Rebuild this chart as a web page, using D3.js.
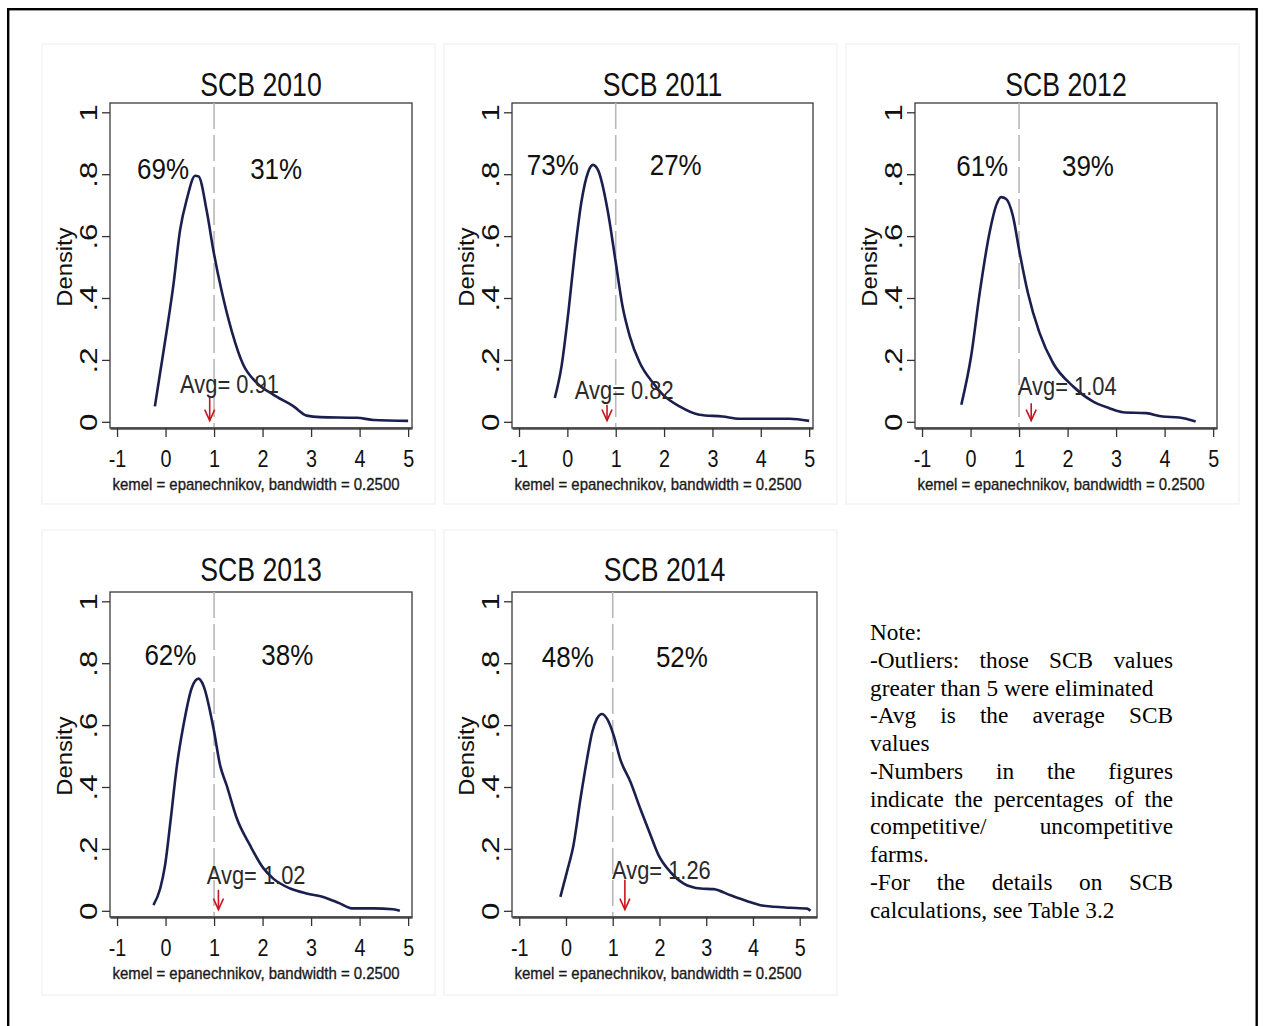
<!DOCTYPE html>
<html><head><meta charset="utf-8">
<script src="https://cdn.jsdelivr.net/npm/d3@7"></script>
<style>body{margin:0;background:#fff}</style>
</head><body>
<svg id="chart" width="1263" height="1026"></svg>
<script>
// ---------------- data ----------------
const titles = ["SCB 2010","SCB 2011","SCB 2012","SCB 2013","SCB 2014"];
const leftPct = ["69%","73%","61%","62%","48%"];
const rightPct = ["31%","27%","39%","38%","52%"];
const avgValues = [0.91,0.82,1.04,1.02,1.26];
const arrowAt = [0.91,0.82,1.25,1.09,1.26];
const cutoff = 1;
const xTicks = [-1,0,1,2,3,4,5];
const yTicks = [0,0.2,0.4,0.6,0.8,1];
const yTickLabels = ["0",".2",".4",".6",".8","1"];
const xMin = [-1.145,-1.145,-1.145,-1.145,-1.155];
const xMax = [5.08,5.08,5.08,5.08,5.37];
const yDomain = [-0.02,1.03];
const yLabel = "Density";
const caption = "kemel = epanechnikov, bandwidth = 0.2500";

// annotation anchors (data coordinates)
const leftPctX = [-0.05,-0.30,0.24,0.10,0.04];
const rightPctX = [2.28,2.24,2.42,2.51,2.48];
const pctY = [0.786,0.796,0.795,0.793,0.787];
const avgX = [0.30,0.155,0.975,0.85,0.985];
const avgY = [0.093,0.075,0.088,0.088,0.104];
const arrowTop = [0.078,0.055,0.06,0.068,0.10];

const density2010 = [[-0.22,0.05],[-0.11,0.16],[0.02,0.29],[0.16,0.44],[0.30,0.62],[0.44,0.72],[0.61,0.795],[0.68,0.793],[0.85,0.68],[0.99,0.55],[1.16,0.42],[1.37,0.29],[1.60,0.185],[1.88,0.126],[2.22,0.088],[2.64,0.05],[2.91,0.02],[3.19,0.015],[3.94,0.013],[4.29,0.006],[5.0,0.003]];
const density2011 = [[-0.26,0.077],[-0.12,0.18],[0.02,0.353],[0.155,0.548],[0.29,0.71],[0.43,0.807],[0.53,0.83],[0.635,0.813],[0.84,0.677],[0.99,0.526],[1.14,0.374],[1.29,0.277],[1.50,0.19],[1.77,0.126],[1.975,0.088],[2.32,0.05],[2.73,0.023],[3.21,0.017],[3.56,0.01],[4.59,0.01],[5.0,0.003]];
const density2012 = [[-0.19,0.055],[0.01,0.21],[0.19,0.418],[0.39,0.61],[0.53,0.70],[0.63,0.726],[0.735,0.72],[0.87,0.667],[1.01,0.548],[1.18,0.418],[1.42,0.288],[1.70,0.19],[2.11,0.115],[2.52,0.066],[2.86,0.044],[3.14,0.031],[3.62,0.028],[3.96,0.017],[4.30,0.014],[4.64,0.001]];
const density2013 = [[-0.25,0.018],[-0.11,0.072],[-0.01,0.147],[0.10,0.287],[0.235,0.47],[0.37,0.60],[0.54,0.72],[0.68,0.75],[0.78,0.728],[0.99,0.588],[1.125,0.47],[1.26,0.405],[1.47,0.298],[1.74,0.212],[2.02,0.137],[2.22,0.104],[2.57,0.072],[2.91,0.056],[3.25,0.045],[3.59,0.024],[3.84,0.008],[4.28,0.008],[4.69,0.005],[4.83,0.0]];
const density2014 = [[-0.12,0.045],[0.02,0.126],[0.16,0.212],[0.31,0.362],[0.45,0.49],[0.56,0.577],[0.66,0.62],[0.77,0.636],[0.88,0.62],[1.02,0.567],[1.16,0.49],[1.38,0.416],[1.59,0.33],[1.81,0.244],[1.98,0.18],[2.23,0.126],[2.52,0.088],[2.88,0.072],[3.16,0.07],[3.52,0.05],[3.88,0.031],[4.16,0.018],[4.45,0.013],[4.80,0.01],[5.16,0.007],[5.23,0.0]];

const noteLines = ["Note:","-Outliers: those SCB values","greater than 5 were eliminated","-Avg is the average SCB","values","-Numbers in the figures","indicate the percentages of the","competitive/ uncompetitive","farms.","-For the details on SCB","calculations, see Table 3.2"];
const noteJustify = [false,true,false,true,false,true,true,true,false,true,false];

// ---------------- drawing ----------------
const curves = [density2010,density2011,density2012,density2013,density2014];
const SANS = "'Liberation Sans', Arial, sans-serif";
const SERIF = "'Liberation Serif', 'Times New Roman', serif";
const svg = d3.select("#chart");
svg.append("rect").attr("width",1263).attr("height",1026).attr("fill","#fff");

// faint graph-region outlines
const regions = [[42,44,393,460],[444,44,393,460],[846,44,393,460],[42,530,393,465],[444,530,393,465]];
regions.forEach(r=>svg.append("rect").attr("x",r[0]).attr("y",r[1]).attr("width",r[2]).attr("height",r[3])
  .attr("fill","none").attr("stroke","#f3f3f3").attr("stroke-width",1.5));

const layout = [{l:110,t:103,w:302},{l:512,t:103,w:301},{l:915,t:103,w:302},{l:110,t:592,w:302},{l:512,t:592,w:305}];
const H = 325;

layout.forEach((p,i)=>{
  const g = svg.append("g").attr("transform",`translate(${p.l},${p.t})`);
  const x = d3.scaleLinear().domain([xMin[i],xMax[i]]).range([0,p.w]);
  const y = d3.scaleLinear().domain(yDomain).range([H,0]);

  // frame
  g.append("rect").attr("x",0).attr("y",0).attr("width",p.w).attr("height",H)
    .attr("fill","none").attr("stroke","#3a3a3a").attr("stroke-width",1.3);

  // cutoff dashed line
  g.append("line").attr("x1",x(cutoff)).attr("x2",x(cutoff)).attr("y1",0).attr("y2",H)
    .attr("stroke","#b8b8b8").attr("stroke-width",1.6).attr("stroke-dasharray","26,6");

  // density curve
  g.append("path").datum(curves[i])
    .attr("d",d3.line().x(d=>x(d[0])).y(d=>y(d[1])).curve(d3.curveMonotoneX))
    .attr("fill","none").attr("stroke","#1b1f4e").attr("stroke-width",2.6).attr("stroke-linejoin","round");

  // x axis
  const xa = g.append("g").attr("transform",`translate(0,${H})`)
    .call(d3.axisBottom(x).tickValues(xTicks).tickSize(9).tickSizeOuter(0).tickFormat(d=>String(d)));
  xa.select(".domain").attr("stroke","#4a4a4a").attr("stroke-width",2.6);
  xa.selectAll(".tick line").attr("stroke","#333").attr("stroke-width",1.3);
  xa.selectAll(".tick text").attr("y",null).attr("dy",null)
    .attr("transform","translate(0,39) scale(0.86,1.08)")
    .attr("font-family",SANS).attr("font-size",23).attr("fill","#111");

  // y axis
  const ya = g.append("g")
    .call(d3.axisLeft(y).tickValues(yTicks).tickSize(8).tickSizeOuter(0).tickFormat((d,j)=>yTickLabels[j]));
  ya.select(".domain").remove();
  ya.selectAll(".tick line").attr("stroke","#333").attr("stroke-width",1.3);
  ya.selectAll(".tick text").attr("x",null).attr("dy",null).attr("text-anchor","middle")
    .attr("transform","translate(-13,0) rotate(-90) scale(1.3,1)")
    .attr("font-family",SANS).attr("font-size",24).attr("fill","#111");

  // y label
  g.append("text").attr("transform",`translate(-38,${y(0.5)}) rotate(-90) scale(1.08,1)`)
    .attr("text-anchor","middle").attr("font-family",SANS).attr("font-size",22).attr("fill","#111")
    .text(yLabel);

  // title
  g.append("text").attr("transform",`translate(${p.w/2},${i<3?-7:-11}) scale(0.86,1.08)`)
    .attr("text-anchor","middle").attr("font-family",SANS).attr("font-size",31).attr("fill","#111")
    .text(titles[i]);

  // caption
  g.append("text").attr("x",146).attr("y",H+62).attr("text-anchor","middle")
    .attr("font-family",SANS).attr("font-size",17).attr("fill","#1a1a1a")
    .attr("stroke","#1a1a1a").attr("stroke-width",0.35)
    .attr("textLength",287).attr("lengthAdjust","spacingAndGlyphs").text(caption);

  // percentages
  [[leftPctX[i],leftPct[i]],[rightPctX[i],rightPct[i]]].forEach(([px,txt])=>{
    g.append("text").attr("transform",`translate(${x(px)},${y(pctY[i])}) scale(1,1.12)`)
      .attr("text-anchor","middle").attr("font-family",SANS).attr("font-size",26).attr("fill","#111").text(txt);
  });

  // average label and arrow
  g.append("text").attr("transform",`translate(${x(avgX[i])},${y(avgY[i])}) scale(0.875,1.05)`)
    .attr("font-family",SANS).attr("font-size",25).attr("fill","#2a2a2a")
    .text("Avg= " + avgValues[i].toFixed(2));
  const ax = x(arrowAt[i]), at = y(arrowTop[i]), ab = y(0.004);
  const ag = g.append("g").attr("stroke","#c8161d").attr("stroke-width",1.6).attr("fill","none");
  ag.append("line").attr("x1",ax).attr("x2",ax).attr("y1",at).attr("y2",ab);
  ag.append("path").attr("d",`M${ax-5},${ab-11}L${ax},${ab}L${ax+5},${ab-11}`);
});

// note text (justified)
const noteLeft = 870, noteWidth = 303, noteTop = 640, lineH = 27.75, NOTE_FS = 23.3;
const noteG = svg.append("g").attr("font-family",SERIF).attr("font-size",NOTE_FS).attr("fill","#000");
noteLines.forEach((line,k)=>{
  const yy = noteTop + k*lineH;
  if(!noteJustify[k]){
    noteG.append("text").attr("x",noteLeft).attr("y",yy).text(line);
    return;
  }
  const words = line.split(" ");
  const nodes = words.map(w=>noteG.append("text").attr("y",yy).text(w));
  const widths = nodes.map(n=>n.node().getComputedTextLength());
  const gap = (noteWidth - d3.sum(widths))/(words.length-1);
  let cx = noteLeft;
  nodes.forEach((n,j)=>{ n.attr("x",cx); cx += widths[j] + gap; });
});

// outer border
svg.append("rect").attr("x",8.2).attr("y",9.2).attr("width",1248.5).attr("height",1040)
  .attr("fill","none").attr("stroke","#000").attr("stroke-width",2.4);
</script>
</body></html>
